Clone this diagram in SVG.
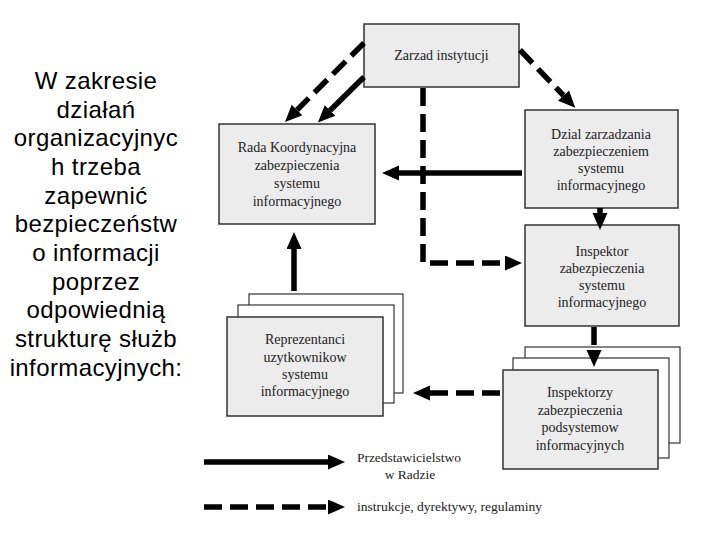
<svg xmlns="http://www.w3.org/2000/svg" width="720" height="540" viewBox="0 0 720 540">
<defs>
<marker id="ah" markerUnits="userSpaceOnUse" markerWidth="18" markerHeight="16" refX="0" refY="7.5" orient="auto">
<path d="M0,0 L17,7.5 L0,15 z" fill="#000"/>
</marker>
<style>
.box{fill:#ececec;stroke:#333;stroke-width:1.5}
.sheet{fill:#fff;stroke:#333;stroke-width:1.2}
.t{font-family:"Liberation Serif","Times New Roman",serif;font-size:14px;fill:#222;text-anchor:middle}
.lg{font-family:"Liberation Serif","Times New Roman",serif;font-size:13.5px;fill:#222}
.side{font-family:"Liberation Sans",Arial,sans-serif;font-size:24px;fill:#000;text-anchor:middle;letter-spacing:0.4px}
.solid{fill:none;stroke:#000;stroke-width:5.5;marker-end:url(#ah)}
.dash{fill:none;stroke:#000;stroke-width:5.5;stroke-dasharray:18 8;marker-end:url(#ah)}
</style>
</defs>
<rect width="720" height="540" fill="#fff"/>

<g id="intro">
<text class="side" x="96" y="89">W zakresie</text>
<text class="side" x="96" y="118">działań</text>
<text class="side" x="96" y="146">organizacyjnyc</text>
<text class="side" x="96" y="175">h trzeba</text>
<text class="side" x="96" y="204">zapewnić</text>
<text class="side" x="96" y="232">bezpieczeństw</text>
<text class="side" x="96" y="261">o informacji</text>
<text class="side" x="96" y="290">poprzez</text>
<text class="side" x="96" y="318">odpowiednią</text>
<text class="side" x="96" y="347">strukturę służb</text>
<text class="side" x="96" y="376">informacyjnych:</text>
</g>

<g id="zarzad">
<rect class="box" x="364" y="24" width="155" height="63"/>
<text class="t" x="441.5" y="60">Zarzad instytucji</text>
</g>

<g id="rada">
<rect class="box" x="219" y="124" width="156" height="100"/>
<text class="t" x="297" y="152">Rada Koordynacyjna</text>
<text class="t" x="297" y="170">zabezpieczenia</text>
<text class="t" x="297" y="188">systemu</text>
<text class="t" x="297" y="206">informacyjnego</text>
</g>

<g id="dzial">
<rect class="box" x="525" y="110" width="153" height="98"/>
<text class="t" x="601" y="139">Dzial zarzadzania</text>
<text class="t" x="601" y="156">zabezpieczeniem</text>
<text class="t" x="601" y="173">systemu</text>
<text class="t" x="601" y="190">informacyjnego</text>
</g>

<g id="inspektor">
<rect class="box" x="525" y="225" width="154" height="101"/>
<text class="t" x="602" y="256">Inspektor</text>
<text class="t" x="602" y="273">zabezpieczenia</text>
<text class="t" x="602" y="290">systemu</text>
<text class="t" x="602" y="307">informacyjnego</text>
</g>

<g id="reprezentanci">
<rect class="sheet" x="249" y="294" width="154" height="99"/>
<rect class="sheet" x="238" y="305" width="156" height="98"/>
<rect class="box" x="227" y="317" width="156" height="99"/>
<text class="t" x="305" y="344">Reprezentanci</text>
<text class="t" x="305" y="362">uzytkownikow</text>
<text class="t" x="305" y="379">systemu</text>
<text class="t" x="305" y="396">informacyjnego</text>
</g>

<g id="inspektorzy">
<rect class="sheet" x="525" y="347" width="155" height="96"/>
<rect class="sheet" x="513" y="358" width="156" height="100"/>
<rect class="box" x="503" y="370" width="155" height="99"/>
<text class="t" x="580" y="397">Inspektorzy</text>
<text class="t" x="580" y="415">zabezpieczenia</text>
<text class="t" x="580" y="432">podsystemow</text>
<text class="t" x="580" y="450">informacyjnych</text>
</g>

<g id="connectors">
<path class="dash" d="M364,43 L297,110"/>
<path class="solid" d="M364,77 L330,110.5"/>
<path class="dash" d="M520,50 L563.5,95.5"/>
<path class="dash" d="M423,88 V263 H505"/>
<path class="solid" d="M522,173 H399"/>
<path class="solid" d="M600,208 V213"/>
<path class="dash" d="M594,327 V350"/>
<path class="dash" d="M500,393 H430"/>
<path class="solid" d="M294,291 V249"/>
</g>

<g id="legend">
<path class="solid" d="M204,462 H328"/>
<text class="lg" x="409" y="462" text-anchor="middle">Przedstawicielstwo</text>
<text class="lg" x="410" y="479" text-anchor="middle">w Radzie</text>
<path class="dash" d="M204,507 H328"/>
<text class="lg" x="357" y="511">instrukcje, dyrektywy, regulaminy</text>
</g>
</svg>
